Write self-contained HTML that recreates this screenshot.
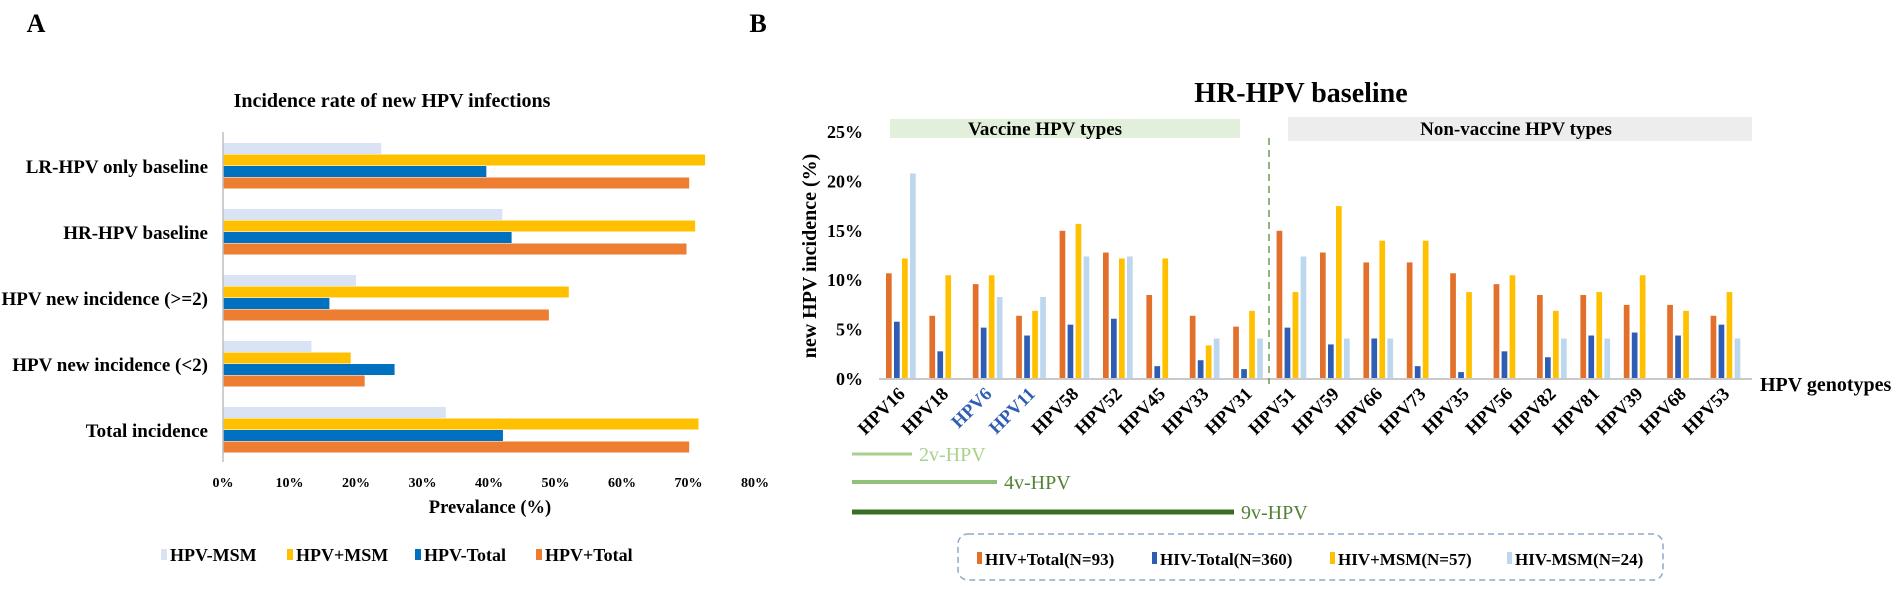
<!DOCTYPE html>
<html><head><meta charset="utf-8"><style>
html,body{margin:0;padding:0;background:#fff;}
svg{display:block;font-family:"Liberation Serif",serif;}
</style></head><body>
<svg id="fig" width="1901" height="590" viewBox="0 0 1901 590" xmlns="http://www.w3.org/2000/svg">
<text x="36" y="32" font-size="26" font-weight="bold" text-anchor="middle">A</text>
<text x="758" y="32" font-size="26" font-weight="bold" text-anchor="middle">B</text>
<g id="panelA"></g>
<g id="panelB"></g>
</svg>
<script>
// ---------- Panel A data ----------
const catsA = ["LR-HPV only baseline","HR-HPV baseline","HPV new incidence (>=2)","HPV new incidence (<2)","Total incidence"];
const seriesNamesA = ["HPV-MSM","HPV+MSM","HPV-Total","HPV+Total"];
const msmNegA = [23.8, 42.0, 20.0, 13.3, 33.5];
const msmPosA = [72.5, 71.0, 52.0, 19.2, 71.5];
const totNegA = [39.6, 43.4, 16.0, 25.8, 42.1];
const totPosA = [70.1, 69.7, 49.0, 21.3, 70.1];
const ticksA = [0,10,20,30,40,50,60,70,80];

// ---------- Panel B data ----------
const catsB = ["HPV16","HPV18","HPV6","HPV11","HPV58","HPV52","HPV45","HPV33","HPV31","HPV51","HPV59","HPV66","HPV73","HPV35","HPV56","HPV82","HPV81","HPV39","HPV68","HPV53"];
const seriesNamesB = ["HIV+Total(N=93)","HIV-Total(N=360)","HIV+MSM(N=57)","HIV-MSM(N=24)"];
const hivPosTotal = [10.7,6.4,9.6,6.4,15.0,12.8,8.5,6.4,5.3,15.0,12.8,11.8,11.8,10.7,9.6,8.5,8.5,7.5,7.5,6.4];
const hivNegTotal = [5.8,2.8,5.2,4.4,5.5,6.1,1.3,1.9,1.0,5.2,3.5,4.1,1.3,0.7,2.8,2.2,4.4,4.7,4.4,5.5];
const hivPosMSM   = [12.2,10.5,10.5,6.9,15.7,12.2,12.2,3.4,6.9,8.8,17.5,14.0,14.0,8.8,10.5,6.9,8.8,10.5,6.9,8.8];
const hivNegMSM   = [20.8,0,8.3,8.3,12.4,12.4,0,4.1,4.1,12.4,4.1,4.1,0,0,0,4.1,4.1,0,0,4.1];
const ticksB = [0,5,10,15,20,25];

const NS="http://www.w3.org/2000/svg";
function mk(parent,tag,attrs,text){const e=document.createElementNS(NS,tag);for(const k in attrs)e.setAttribute(k,attrs[k]);if(text!==undefined)e.textContent=text;parent.appendChild(e);return e;}

// ===== Panel A =====
(function(){
const g=document.getElementById('panelA');
const x0=223, pxPer=6.65;
const xA=v=>x0+v*pxPer;
const rowY=i=>166+i*66;
const colorsA=["#dae3f3","#ffc000","#0070c0","#ed7d31"];
const dataA=[msmNegA,msmPosA,totNegA,totPosA];
let t=mk(g,'text',{x:392,y:107,'font-size':20,'font-weight':'bold','text-anchor':'middle'},"Incidence rate of new HPV infections");


catsA.forEach((c,i)=>{
  const cy=rowY(i);
  dataA.forEach((arr,s)=>{
    const r=mk(g,'rect',{x:x0,y:cy-23+s*11.5,width:Math.max(0,xA(arr[i])-x0),height:11,fill:colorsA[s]});
    
    
  });
  const lb=mk(g,'text',{x:208,y:cy+7,'font-size':19,'font-weight':'bold','text-anchor':'end'},c);
  
  
});
const ax=mk(g,'line',{x1:x0,y1:132,x2:x0,y2:462,stroke:'#bfbfbf','stroke-width':1.5});


ticksA.forEach(v=>{
  const tl=mk(g,'text',{x:xA(v),y:487,'font-size':14,'font-weight':'bold','text-anchor':'middle'},v+"%");
  
  
});
const xt=mk(g,'text',{x:490,y:513,'font-size':18.5,'font-weight':'bold','text-anchor':'middle'},"Prevalance (%)");


const legX=[161,287,415,536];
seriesNamesA.forEach((n,s)=>{
  const sq=mk(g,'rect',{x:legX[s],y:549,width:6,height:11,fill:colorsA[s]});
  
  
  const lt=mk(g,'text',{x:legX[s]+9,y:561,'font-size':18,'font-weight':'bold'},n);
  
  
});
})();

// ===== Panel B =====
(function(){
const g=document.getElementById('panelB');
const y0=379, pxPer=9.88;
const yB=v=>y0-v*pxPer;
const grp0=886, pitch=43.4;
const colorsB=["#e2702a","#2e5db3","#ffc000","#bdd7ee"];
const dataB=[hivPosTotal,hivNegTotal,hivPosMSM,hivNegMSM];
let t=mk(g,'text',{x:1301,y:102,'font-size':28,'font-weight':'bold','text-anchor':'middle'},"HR-HPV baseline");


let b=mk(g,'rect',{x:890,y:119,width:350,height:19,fill:'#e2efda'});


let bt=mk(g,'text',{x:1045,y:135,'font-size':19,'font-weight':'bold','text-anchor':'middle'},"Vaccine HPV types");


b=mk(g,'rect',{x:1288,y:117,width:464,height:24,fill:'#ededed'});


bt=mk(g,'text',{x:1516,y:135,'font-size':19,'font-weight':'bold','text-anchor':'middle'},"Non-vaccine HPV types");


ticksB.forEach(v=>{
  const tl=mk(g,'text',{x:863,y:yB(v)+6,'font-size':18,'font-weight':'bold','text-anchor':'end'},v+"%");
  
  
});
const yt=mk(g,'text',{x:0,y:0,'font-size':20,'font-weight':'bold','text-anchor':'middle',transform:'translate(816,256) rotate(-90)'},"new HPV incidence (%)");


catsB.forEach((c,i)=>{
  const gx=grp0+i*pitch;
  dataB.forEach((arr,s)=>{
    if(arr[i]<=0) return;
    const r=mk(g,'rect',{x:gx+s*8,y:yB(arr[i]),width:5.7,height:y0-yB(arr[i]),fill:colorsB[s]});
    
    
  });
  const blue=(c==="HPV6"||c==="HPV11");
  const lb=mk(g,'text',{x:0,y:0,'font-size':18.5,'font-weight':'bold','text-anchor':'end',fill:blue?'#2e5db3':'#000',transform:`translate(${gx+20},${395}) rotate(-45)`},c);
  
  
});
const base=mk(g,'line',{x1:879,y1:y0,x2:1752,y2:y0,stroke:'#c9c9c9','stroke-width':2});


const dv=mk(g,'line',{x1:1269,y1:138,x2:1269,y2:384,stroke:'#6f9a55','stroke-width':1.5,'stroke-dasharray':'7,5'});


const xt=mk(g,'text',{x:1760,y:391,'font-size':20,'font-weight':'bold'},"HPV genotypes");


const vl=[[912,454,3,'#a9d18e','2v-HPV','#a9d18e'],[997,482,4,'#8fc17a','4v-HPV','#548235'],[1234,512,5,'#3b6e22','9v-HPV','#548235']];
vl.forEach(v=>{
  const l=mk(g,'line',{x1:852,y1:v[1],x2:v[0],y2:v[1],stroke:v[3],'stroke-width':v[2]});
  
  
  const tt=mk(g,'text',{x:v[0]+7,y:v[1]+7,'font-size':20,fill:v[5]},v[4]);
  
  
});
const lg=mk(g,'rect',{x:958,y:534,width:705,height:46,rx:10,fill:'none',stroke:'#8eaac8','stroke-width':1.5,'stroke-dasharray':'6,4'});


const legX=[977,1152,1330,1507];
seriesNamesB.forEach((n,s)=>{
  const sq=mk(g,'rect',{x:legX[s],y:552,width:5,height:12,fill:colorsB[s]});
  
  
  const lt=mk(g,'text',{x:legX[s]+8,y:565,'font-size':17,'font-weight':'bold'},n);
  
  
});
})();
</script>
</body></html>
